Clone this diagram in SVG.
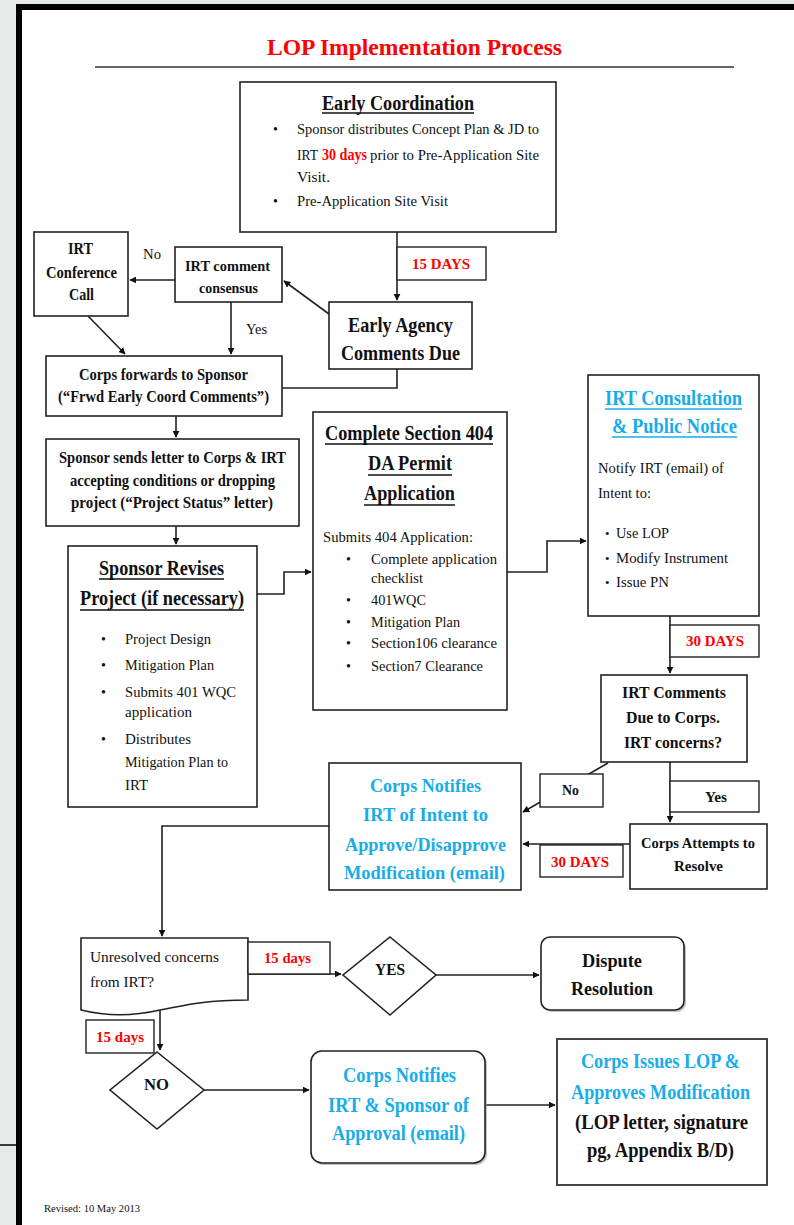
<svg xmlns="http://www.w3.org/2000/svg" width="794" height="1225" viewBox="0 0 794 1225">
<style>
text{font-family:"Liberation Serif","Times New Roman",serif;fill:#111}
.r{font-size:15px}
.b{font-weight:bold}
.red{fill:#ff0000}
.blue{fill:#17ade9}
.box{fill:#fff;stroke:#222;stroke-width:1.6}
.lbl{fill:#fff;stroke:#222;stroke-width:1.4}
.c{fill:none;stroke:#222;stroke-width:1.6}
.ul{stroke:#111;stroke-width:1.3}
.ulb{stroke:#17ade9;stroke-width:1.3}
.sh{fill:#9a9a9a;opacity:0.6}
</style>
<defs>
<marker id="ah" viewBox="0 0 10 10" refX="9" refY="5" markerWidth="7" markerHeight="7" markerUnits="userSpaceOnUse" orient="auto">
<path d="M0,0 L10,5 L0,10 z" fill="#111"/>
</marker>
</defs>
<rect x="0" y="0" width="794" height="1225" fill="#fff"/>
<rect x="0" y="0" width="17" height="1225" fill="#e5e9e8"/>
<rect x="0" y="0" width="794" height="4" fill="#e5e9e8"/>
<rect x="16" y="4" width="6" height="1221" fill="#000"/>
<rect x="16" y="4" width="778" height="6" fill="#000"/>
<line x1="0" y1="1145" x2="16" y2="1145" stroke="#000" stroke-width="1.5"/>

<g id="title">
<text x="267" y="55" class="b red" font-size="24" textLength="295" lengthAdjust="spacingAndGlyphs">LOP Implementation Process</text>
<line x1="95" y1="67" x2="734" y2="67" stroke="#333" stroke-width="1.6"/>
</g>

<g id="connectors">
<path class="c" d="M397,232 V300" marker-end="url(#ah)"/>
<path class="c" d="M329,314 L284,281" marker-end="url(#ah)"/>
<path class="c" d="M175,280 H130" marker-end="url(#ah)"/>
<path class="c" d="M231,302 V354" marker-end="url(#ah)"/>
<path class="c" d="M88,316 L125,354" marker-end="url(#ah)"/>
<path class="c" d="M397,369 V388 H282"/>
<path class="c" d="M176,416 V437" marker-end="url(#ah)"/>
<path class="c" d="M176,526 V544" marker-end="url(#ah)"/>
<path class="c" d="M257,594 H284 V572 H311" marker-end="url(#ah)"/>
<path class="c" d="M507,572 H547 V541 H586" marker-end="url(#ah)"/>
<path class="c" d="M670,616 V673" marker-end="url(#ah)"/>
<path class="c" d="M608,763 L523,812" marker-end="url(#ah)"/>
<path class="c" d="M670,762 V822" marker-end="url(#ah)"/>
<path class="c" d="M630,844 H523" marker-end="url(#ah)"/>
<path class="c" d="M329,826 H162 V936" marker-end="url(#ah)"/>
<path class="c" d="M248,974 H341" marker-end="url(#ah)"/>
<path class="c" d="M436,975 H539" marker-end="url(#ah)"/>
<path class="c" d="M160,1010 V1050" marker-end="url(#ah)"/>
<path class="c" d="M204,1090 H309" marker-end="url(#ah)"/>
<path class="c" d="M485,1105 H555" marker-end="url(#ah)"/>
</g>

<g id="early-coordination">
<rect class="box" x="240" y="82" width="316" height="150"/>
<text x="322" y="110" class="b" font-size="20" textLength="152" lengthAdjust="spacingAndGlyphs">Early Coordination</text>
<line class="ul" x1="322" y1="113" x2="474" y2="113"/>
<text x="273" y="134" font-size="14">•</text>
<text x="297" y="134" font-size="14" textLength="242" lengthAdjust="spacingAndGlyphs">Sponsor distributes Concept Plan &amp; JD to</text>
<text x="297" y="160" font-size="14" textLength="21" lengthAdjust="spacingAndGlyphs">IRT</text>
<text x="322" y="160" class="b red" font-size="16" textLength="45" lengthAdjust="spacingAndGlyphs">30 days</text>
<text x="370" y="160" font-size="14" textLength="169" lengthAdjust="spacingAndGlyphs">prior to Pre-Application Site</text>
<text x="297" y="182" font-size="14" textLength="33" lengthAdjust="spacingAndGlyphs">Visit.</text>
<text x="273" y="206" font-size="14">•</text>
<text x="297" y="206" font-size="14" textLength="151" lengthAdjust="spacingAndGlyphs">Pre-Application Site Visit</text>
</g>

<g id="label-15days-top">
<rect class="lbl" x="397" y="247" width="89" height="33"/>
<text x="412" y="269" class="b red" font-size="15" textLength="58" lengthAdjust="spacingAndGlyphs">15 DAYS</text>
</g>

<g id="irt-conference-call">
<rect class="box" x="34" y="232" width="94" height="84"/>
<text x="68" y="254" class="b" font-size="16" textLength="25" lengthAdjust="spacingAndGlyphs">IRT</text>
<text x="46" y="278" class="b" font-size="16" textLength="71" lengthAdjust="spacingAndGlyphs">Conference</text>
<text x="69" y="300" class="b" font-size="16" textLength="25" lengthAdjust="spacingAndGlyphs">Call</text>
</g>

<g id="label-no-top"><text x="143" y="259" class="r" textLength="18" lengthAdjust="spacingAndGlyphs">No</text></g>
<g id="label-yes-top"><text x="246" y="334" class="r" textLength="21" lengthAdjust="spacingAndGlyphs">Yes</text></g>

<g id="irt-comment-consensus">
<rect class="box" x="175" y="247" width="107" height="55"/>
<text x="185" y="271" class="b" font-size="15" textLength="85" lengthAdjust="spacingAndGlyphs">IRT comment</text>
<text x="199" y="293" class="b" font-size="15" textLength="59" lengthAdjust="spacingAndGlyphs">consensus</text>
</g>

<g id="early-agency">
<rect class="box" x="329" y="302" width="143" height="67"/>
<text x="348" y="332" class="b" font-size="21" textLength="105" lengthAdjust="spacingAndGlyphs">Early Agency</text>
<text x="341" y="360" class="b" font-size="21" textLength="119" lengthAdjust="spacingAndGlyphs">Comments Due</text>
</g>

<g id="corps-forwards">
<rect class="box" x="46" y="356" width="236" height="60"/>
<text x="79" y="380" class="b" font-size="16" textLength="169" lengthAdjust="spacingAndGlyphs">Corps forwards to Sponsor</text>
<text x="58" y="402" class="b" font-size="16" textLength="211" lengthAdjust="spacingAndGlyphs">(“Frwd Early Coord Comments”)</text>
</g>

<g id="sponsor-letter">
<rect class="box" x="46" y="439" width="253" height="87"/>
<text x="59" y="463" class="b" font-size="16" textLength="227" lengthAdjust="spacingAndGlyphs">Sponsor sends letter to Corps &amp; IRT</text>
<text x="70" y="486" class="b" font-size="16" textLength="205" lengthAdjust="spacingAndGlyphs">accepting conditions or dropping</text>
<text x="71" y="508" class="b" font-size="16" textLength="202" lengthAdjust="spacingAndGlyphs">project (“Project Status” letter)</text>
</g>

<g id="sponsor-revises">
<rect class="box" x="68" y="546" width="189" height="261"/>
<text x="99" y="575" class="b" font-size="20" textLength="125" lengthAdjust="spacingAndGlyphs">Sponsor Revises</text>
<line class="ul" x1="99" y1="579" x2="224" y2="579"/>
<text x="80" y="605" class="b" font-size="20" textLength="164" lengthAdjust="spacingAndGlyphs">Project (if necessary)</text>
<line class="ul" x1="80" y1="610" x2="244" y2="610"/>
<text x="101" y="644" font-size="14">•</text>
<text x="125" y="644" font-size="14" textLength="86" lengthAdjust="spacingAndGlyphs">Project Design</text>
<text x="101" y="670" font-size="14">•</text>
<text x="125" y="670" font-size="14" textLength="89" lengthAdjust="spacingAndGlyphs">Mitigation Plan</text>
<text x="101" y="697" font-size="14">•</text>
<text x="125" y="697" font-size="14" textLength="111" lengthAdjust="spacingAndGlyphs">Submits 401 WQC</text>
<text x="125" y="717" font-size="14" textLength="67" lengthAdjust="spacingAndGlyphs">application</text>
<text x="101" y="744" font-size="14">•</text>
<text x="125" y="744" font-size="14" textLength="66" lengthAdjust="spacingAndGlyphs">Distributes</text>
<text x="125" y="767" font-size="14" textLength="103" lengthAdjust="spacingAndGlyphs">Mitigation Plan to</text>
<text x="125" y="790" font-size="14" textLength="23" lengthAdjust="spacingAndGlyphs">IRT</text>
</g>

<g id="section-404">
<rect class="box" x="313" y="412" width="194" height="298"/>
<text x="325" y="440" class="b" font-size="21" textLength="168" lengthAdjust="spacingAndGlyphs">Complete Section 404</text>
<line class="ul" x1="325" y1="444" x2="493" y2="444"/>
<text x="368" y="470" class="b" font-size="21" textLength="84" lengthAdjust="spacingAndGlyphs">DA Permit</text>
<line class="ul" x1="368" y1="475" x2="452" y2="475"/>
<text x="364" y="500" class="b" font-size="21" textLength="91" lengthAdjust="spacingAndGlyphs">Application</text>
<line class="ul" x1="364" y1="505" x2="455" y2="505"/>
<text x="323" y="542" font-size="15" textLength="150" lengthAdjust="spacingAndGlyphs">Submits 404 Application:</text>
<text x="346" y="564" font-size="14">•</text>
<text x="371" y="564" font-size="15" textLength="126" lengthAdjust="spacingAndGlyphs">Complete application</text>
<text x="371" y="583" font-size="15" textLength="52" lengthAdjust="spacingAndGlyphs">checklist</text>
<text x="346" y="605" font-size="14">•</text>
<text x="371" y="605" font-size="15" textLength="55" lengthAdjust="spacingAndGlyphs">401WQC</text>
<text x="346" y="627" font-size="14">•</text>
<text x="371" y="627" font-size="15" textLength="89" lengthAdjust="spacingAndGlyphs">Mitigation Plan</text>
<text x="346" y="648" font-size="14">•</text>
<text x="371" y="648" font-size="15" textLength="126" lengthAdjust="spacingAndGlyphs">Section106 clearance</text>
<text x="346" y="671" font-size="14">•</text>
<text x="371" y="671" font-size="15" textLength="112" lengthAdjust="spacingAndGlyphs">Section7 Clearance</text>
</g>

<g id="irt-consultation">
<rect class="box" x="588" y="375" width="171" height="241"/>
<text x="605" y="405" class="b blue" font-size="20" textLength="137" lengthAdjust="spacingAndGlyphs">IRT Consultation</text>
<line class="ulb" x1="605" y1="409" x2="742" y2="409"/>
<text x="612" y="433" class="b blue" font-size="20" textLength="125" lengthAdjust="spacingAndGlyphs">&amp; Public Notice</text>
<line class="ulb" x1="612" y1="437" x2="737" y2="437"/>
<text x="598" y="473" font-size="15" textLength="126" lengthAdjust="spacingAndGlyphs">Notify IRT (email) of</text>
<text x="598" y="498" font-size="15" textLength="53" lengthAdjust="spacingAndGlyphs">Intent to:</text>
<text x="605" y="538" font-size="13">•</text>
<text x="616" y="538" font-size="15" textLength="53" lengthAdjust="spacingAndGlyphs">Use LOP</text>
<text x="605" y="563" font-size="13">•</text>
<text x="616" y="563" font-size="15" textLength="112" lengthAdjust="spacingAndGlyphs">Modify Instrument</text>
<text x="605" y="587" font-size="13">•</text>
<text x="616" y="587" font-size="15" textLength="53" lengthAdjust="spacingAndGlyphs">Issue PN</text>
</g>

<g id="label-30days-right">
<rect class="lbl" x="670" y="625" width="89" height="32"/>
<text x="686" y="646" class="b red" font-size="15" textLength="58" lengthAdjust="spacingAndGlyphs">30 DAYS</text>
</g>

<g id="irt-comments-due">
<rect class="box" x="601" y="675" width="146" height="87"/>
<text x="622" y="698" class="b" font-size="17" textLength="104" lengthAdjust="spacingAndGlyphs">IRT Comments</text>
<text x="626" y="723" class="b" font-size="17" textLength="94" lengthAdjust="spacingAndGlyphs">Due to Corps.</text>
<text x="624" y="748" class="b" font-size="17" textLength="98" lengthAdjust="spacingAndGlyphs">IRT concerns?</text>
</g>

<g id="label-no-mid">
<rect class="lbl" x="540" y="774" width="63" height="33"/>
<text x="562" y="795" class="b" font-size="15" textLength="17" lengthAdjust="spacingAndGlyphs">No</text>
</g>

<g id="label-yes-mid">
<rect class="lbl" x="670" y="781" width="89" height="31"/>
<text x="705" y="802" class="b" font-size="15" textLength="22" lengthAdjust="spacingAndGlyphs">Yes</text>
</g>

<g id="corps-attempts">
<rect class="box" x="630" y="824" width="137" height="65"/>
<text x="641" y="848" class="b" font-size="15" textLength="114" lengthAdjust="spacingAndGlyphs">Corps Attempts to</text>
<text x="674" y="871" class="b" font-size="15" textLength="49" lengthAdjust="spacingAndGlyphs">Resolve</text>
</g>

<g id="label-30days-mid">
<rect class="lbl" x="540" y="845" width="83" height="32"/>
<text x="551" y="867" class="b red" font-size="15" textLength="58" lengthAdjust="spacingAndGlyphs">30 DAYS</text>
</g>

<g id="corps-notifies-intent">
<rect class="box" x="329" y="763" width="192" height="127"/>
<text x="370" y="792" class="b blue" font-size="19" textLength="111" lengthAdjust="spacingAndGlyphs">Corps Notifies</text>
<text x="363" y="821" class="b blue" font-size="19" textLength="125" lengthAdjust="spacingAndGlyphs">IRT of Intent to</text>
<text x="345" y="851" class="b blue" font-size="19" textLength="161" lengthAdjust="spacingAndGlyphs">Approve/Disapprove</text>
<text x="344" y="879" class="b blue" font-size="19" textLength="161" lengthAdjust="spacingAndGlyphs">Modification (email)</text>
</g>

<g id="unresolved-concerns">
<path class="box" d="M81,938 H248 V1000 C210,1000 190,1004 160,1010 C130,1017 105,1016 81,1010 Z"/>
<text x="90" y="962" font-size="15" textLength="129" lengthAdjust="spacingAndGlyphs">Unresolved concerns</text>
<text x="90" y="987" font-size="15" textLength="64" lengthAdjust="spacingAndGlyphs">from IRT?</text>
</g>

<g id="label-15days-a">
<rect class="lbl" x="248" y="942" width="82" height="32"/>
<text x="264" y="963" class="b red" font-size="15" textLength="47" lengthAdjust="spacingAndGlyphs">15 days</text>
</g>

<g id="yes-diamond">
<path class="box" d="M390,937 L436,975 L390,1015 L343,975 Z"/>
<text x="375" y="975" class="b" font-size="17" textLength="30" lengthAdjust="spacingAndGlyphs">YES</text>
</g>

<g id="dispute-resolution">
<rect class="sh" x="543" y="939" width="143" height="73" rx="9"/>
<rect class="box" x="541" y="937" width="143" height="73" rx="9"/>
<text x="582" y="967" class="b" font-size="19" textLength="60" lengthAdjust="spacingAndGlyphs">Dispute</text>
<text x="571" y="995" class="b" font-size="19" textLength="82" lengthAdjust="spacingAndGlyphs">Resolution</text>
</g>

<g id="label-15days-b">
<rect class="lbl" x="86" y="1020" width="68" height="33"/>
<text x="96" y="1042" class="b red" font-size="15" textLength="48" lengthAdjust="spacingAndGlyphs">15 days</text>
</g>

<g id="no-diamond">
<path class="box" d="M157,1052 L204,1090 L157,1129 L110,1090 Z"/>
<text x="144" y="1090" class="b" font-size="17" textLength="25" lengthAdjust="spacingAndGlyphs">NO</text>
</g>

<g id="corps-notifies-approval">
<rect class="sh" x="313" y="1053" width="174" height="112" rx="11"/>
<rect class="box" x="311" y="1051" width="174" height="112" rx="11"/>
<text x="343" y="1082" class="b blue" font-size="20" textLength="113" lengthAdjust="spacingAndGlyphs">Corps Notifies</text>
<text x="328" y="1112" class="b blue" font-size="20" textLength="141" lengthAdjust="spacingAndGlyphs">IRT &amp; Sponsor of</text>
<text x="332" y="1140" class="b blue" font-size="20" textLength="133" lengthAdjust="spacingAndGlyphs">Approval (email)</text>
</g>

<g id="corps-issues-lop">
<rect class="box" x="557" y="1039" width="210" height="146" style="stroke:#444;stroke-width:2"/>
<text x="581" y="1068" class="b blue" font-size="20" textLength="159" lengthAdjust="spacingAndGlyphs">Corps Issues LOP &amp;</text>
<text x="571" y="1099" class="b blue" font-size="20" textLength="179" lengthAdjust="spacingAndGlyphs">Approves Modification</text>
<text x="575" y="1129" class="b" font-size="20" textLength="173" lengthAdjust="spacingAndGlyphs">(LOP letter, signature</text>
<text x="587" y="1157" class="b" font-size="20" textLength="147" lengthAdjust="spacingAndGlyphs">pg, Appendix B/D)</text>
</g>

<g id="revised">
<text x="44" y="1212" font-size="10" textLength="96" lengthAdjust="spacingAndGlyphs">Revised:  10 May 2013</text>
</g>
</svg>
